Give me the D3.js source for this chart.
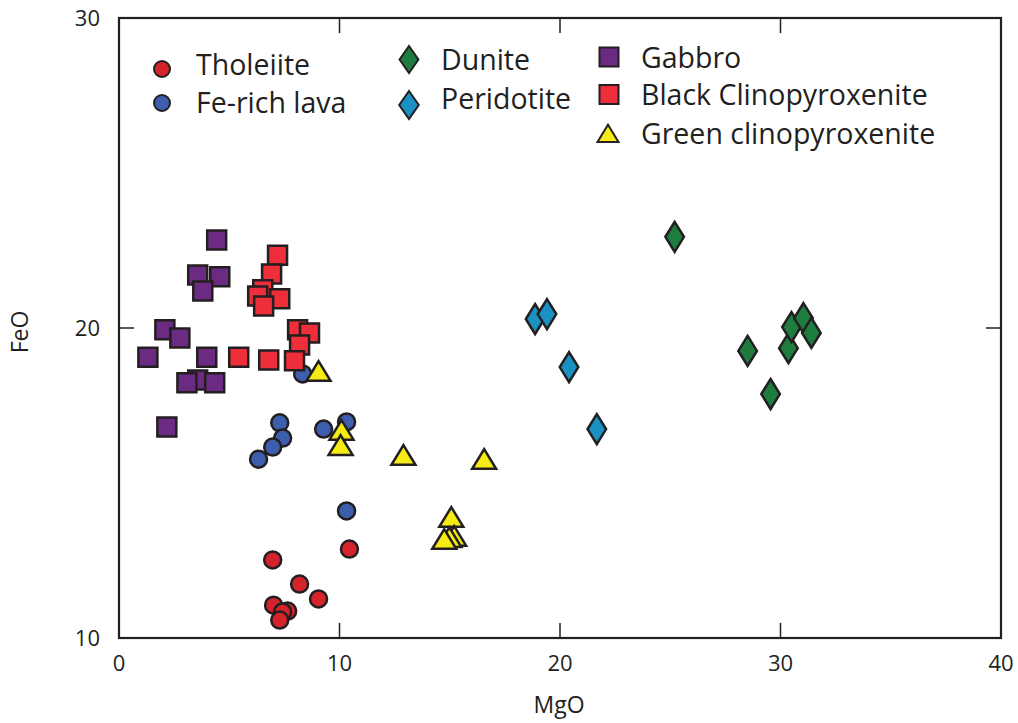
<!DOCTYPE html>
<html>
<head>
<meta charset="utf-8">
<script src="https://cdn.jsdelivr.net/npm/d3@7"></script>
<style>
  html, body { margin: 0; padding: 0; background: #fff; }
  svg text { font-family: "Open Sans", "Noto Sans", sans-serif; fill: #231f20; }
</style>
</head>
<body>
<svg id="chart" width="1018" height="723"></svg>
<script>
// MgO / FeO (wt%) by rock type
const tholeiiteMgO = [6.97, 10.45, 8.19, 9.05, 7.01, 7.65, 7.42, 7.29];
const tholeiiteFeO = [12.52, 12.87, 11.74, 11.26, 11.06, 10.87, 10.84, 10.58];

const feRichMgO = [8.33, 7.29, 9.28, 10.32, 7.42, 6.97, 6.33, 10.32];
const feRichFeO = [18.52, 16.94, 16.74, 16.97, 16.45, 16.16, 15.77, 14.10];

const gabbroMgO = [4.43, 3.57, 4.57, 3.80, 2.08, 2.76, 1.31, 3.98, 3.57, 3.08, 4.34, 2.17];
const gabbroFeO = [22.84, 21.71, 21.65, 21.19, 19.94, 19.68, 19.06, 19.06, 18.32, 18.23, 18.23, 16.81];

const blackCpxMgO = [7.19, 6.92, 6.52, 6.29, 7.29, 6.56, 8.10, 8.64, 8.19, 5.43, 6.79, 7.96];
const blackCpxFeO = [22.35, 21.74, 21.23, 21.03, 20.94, 20.71, 19.94, 19.84, 19.45, 19.06, 18.97, 18.94];

const greenCpxMgO = [9.05, 10.09, 10.05, 12.90, 16.56, 15.07, 15.20, 14.98, 14.75];
const greenCpxFeO = [18.55, 16.65, 16.16, 15.84, 15.71, 13.84, 13.23, 13.19, 13.13];

const duniteMgO = [25.20, 28.51, 29.55, 30.36, 30.50, 31.04, 31.40];
const duniteFeO = [22.94, 19.26, 17.87, 19.35, 20.03, 20.32, 19.84];

const peridotiteMgO = [18.87, 19.41, 20.41, 21.67];
const peridotiteFeO = [20.29, 20.45, 18.74, 16.74];

const xTicks = [0, 10, 20, 30, 40];
const yTicks = [10, 20, 30];

const svg = d3.select("#chart");
const plotLeft = 119, plotRight = 1001, plotTop = 18, plotBottom = 638;

const x = d3.scaleLinear().domain([0, 40]).range([plotLeft, plotRight]);
const y = d3.scaleLinear().domain([10, 30]).range([plotBottom, plotTop]);

const stroke = "#231f20";

// symbol path builders (size in px; diamonds take a width/height ratio)
const shapes = {
  circle: s => { const p = d3.path(); p.arc(0, 0, s / 2, 0, 2 * Math.PI); return p.toString(); },
  square: s => `M${-s/2},${-s/2}H${s/2}V${s/2}H${-s/2}Z`,
  triangle: s => { const h = s * 0.82; return `M0,${-h*0.6}L${s/2},${h*0.4}L${-s/2},${h*0.4}Z`; },
  diamond: (s, r = 0.62) => { const w = s * r; return `M0,${-s/2}L${w/2},0L0,${s/2}L${-w/2},0Z`; }
};

const series = [
  { name: "Tholeiite", mgo: tholeiiteMgO, feo: tholeiiteFeO, shape: "circle", size: 17, fill: "#d4232b" },
  { name: "Fe-rich lava", mgo: feRichMgO, feo: feRichFeO, shape: "circle", size: 17, fill: "#3d5ead" },
  { name: "Gabbro", mgo: gabbroMgO, feo: gabbroFeO, shape: "square", size: 19, fill: "#6c2b83" },
  { name: "Black Clinopyroxenite", mgo: blackCpxMgO, feo: blackCpxFeO, shape: "square", size: 19, fill: "#ee2e3b" },
  { name: "Green clinopyroxenite", mgo: greenCpxMgO, feo: greenCpxFeO, shape: "triangle", size: 24, fill: "#f6eb14" },
  { name: "Dunite", mgo: duniteMgO, feo: duniteFeO, shape: "diamond", size: 30, fill: "#1f7c3f" },
  { name: "Peridotite", mgo: peridotiteMgO, feo: peridotiteFeO, shape: "diamond", size: 30, fill: "#1a90c3" }
];

// frame
svg.append("rect")
  .attr("x", plotLeft).attr("y", plotTop)
  .attr("width", plotRight - plotLeft).attr("height", plotBottom - plotTop)
  .attr("fill", "none").attr("stroke", stroke).attr("stroke-width", 2.2);

// inward ticks on all four sides
const tickLen = 15;
const g = svg.append("g").attr("stroke", stroke).attr("stroke-width", 1.5);
xTicks.slice(1, -1).forEach(t => {
  g.append("line").attr("x1", x(t)).attr("x2", x(t)).attr("y1", plotBottom).attr("y2", plotBottom - tickLen);
  g.append("line").attr("x1", x(t)).attr("x2", x(t)).attr("y1", plotTop).attr("y2", plotTop + tickLen);
});
yTicks.slice(1, -1).forEach(t => {
  g.append("line").attr("x1", plotLeft).attr("x2", plotLeft + tickLen).attr("y1", y(t)).attr("y2", y(t));
  g.append("line").attr("x1", plotRight).attr("x2", plotRight - tickLen).attr("y1", y(t)).attr("y2", y(t));
});

// tick labels
svg.append("g").selectAll("text").data(xTicks).join("text")
  .attr("x", d => x(d)).attr("y", plotBottom + 33)
  .attr("text-anchor", "middle").attr("font-size", 22)
  .text(d => d);
svg.append("g").selectAll("text").data(yTicks).join("text")
  .attr("x", plotLeft - 19).attr("y", d => y(d) + 8)
  .attr("text-anchor", "end").attr("font-size", 22)
  .text(d => d);

// axis titles
svg.append("text").attr("x", 559).attr("y", 713)
  .attr("text-anchor", "middle").attr("font-size", 23).text("MgO");
svg.append("text").attr("transform", `translate(28,332) rotate(-90)`)
  .attr("text-anchor", "middle").attr("font-size", 23).text("FeO");

// points (lavas first, then squares, triangles, diamonds)
series.forEach(s => {
  svg.append("g").selectAll("path").data(s.mgo.map((m, i) => [m, s.feo[i]])).join("path")
    .attr("transform", d => `translate(${x(d[0])},${y(d[1])})`)
    .attr("d", shapes[s.shape](s.size))
    .attr("fill", s.fill).attr("stroke", stroke).attr("stroke-width", 2.5)
    .attr("stroke-linejoin", "miter");
});

// legend (ty = text baseline)
const legend = [
  { name: "Tholeiite", shape: "circle", size: 16, fill: "#d4232b", mx: 162, my: 69, tx: 196, ty: 75 },
  { name: "Fe-rich lava", shape: "circle", size: 16, fill: "#3d5ead", mx: 162, my: 103, tx: 196, ty: 113 },
  { name: "Dunite", shape: "diamond", size: 27, fill: "#1f7c3f", mx: 409, my: 59.5, tx: 441, ty: 70 },
  { name: "Peridotite", shape: "diamond", size: 28, fill: "#1a90c3", mx: 409, my: 105, tx: 441, ty: 109 },
  { name: "Gabbro", shape: "square", size: 19, fill: "#6c2b83", mx: 609, my: 57, tx: 641, ty: 68 },
  { name: "Black Clinopyroxenite", shape: "square", size: 19, fill: "#ee2e3b", mx: 609, my: 94.5, tx: 641, ty: 105 },
  { name: "Green clinopyroxenite", shape: "triangle", size: 21, fill: "#f6eb14", mx: 608, my: 135, tx: 641, ty: 144 }
];
const lg = svg.append("g").selectAll("g").data(legend).join("g");
lg.append("path")
  .attr("transform", d => `translate(${d.mx},${d.my})`)
  .attr("d", d => d.shape === "diamond" ? shapes.diamond(d.size, 0.7) : shapes[d.shape](d.size))
  .attr("fill", d => d.fill).attr("stroke", stroke).attr("stroke-width", 2);
lg.append("text")
  .attr("x", d => d.tx).attr("y", d => d.ty)
  .attr("font-size", 28.5)
  .text(d => d.name);
</script>
</body>
</html>
